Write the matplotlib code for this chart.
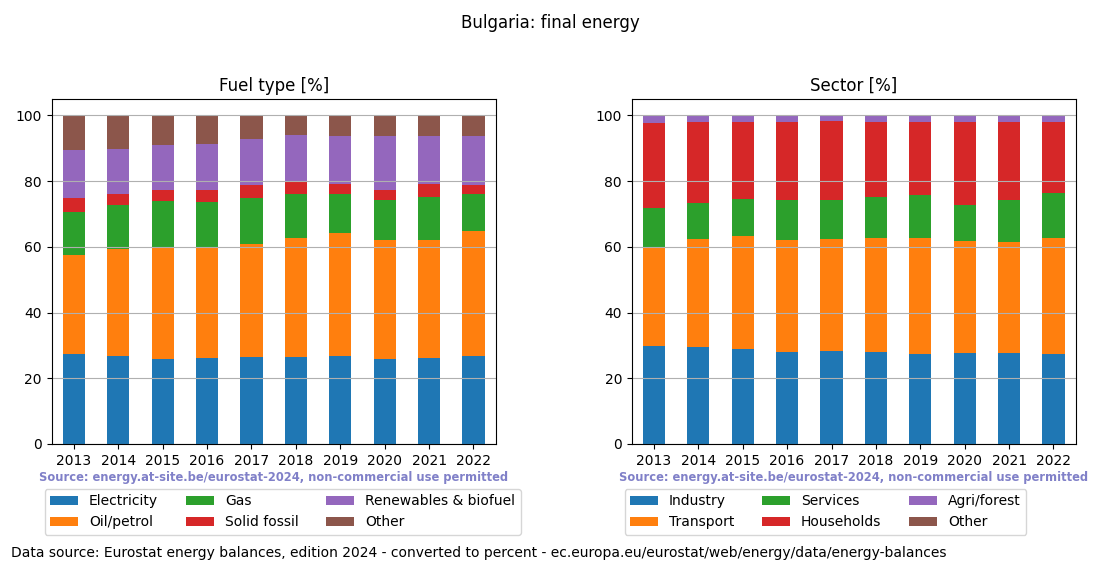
import matplotlib
matplotlib.use("Agg")
import matplotlib.pyplot as plt
import numpy as np

years = ["2013", "2014", "2015", "2016", "2017", "2018", "2019", "2020", "2021", "2022"]

fuel_labels = ["Electricity", "Oil/petrol", "Gas", "Solid fossil", "Renewables & biofuel", "Other"]
electricity = [27.4, 26.8, 25.9, 26.2, 26.5, 26.5, 26.8, 25.9, 26.2, 26.8]
oil_petrol = [30.1, 32.5, 34.0, 33.7, 34.4, 36.2, 37.4, 36.2, 35.9, 38.0]
gas = [13.1, 13.4, 14.0, 13.7, 13.9, 13.4, 11.9, 12.1, 13.1, 11.3]
solid_fossil = [4.2, 3.4, 3.4, 3.7, 4.0, 3.6, 3.0, 3.1, 3.9, 2.7]
renewables = [14.7, 13.7, 13.7, 14.0, 14.0, 14.3, 14.6, 16.4, 14.6, 14.9]
fuel_other = [10.5, 10.2, 9.0, 8.7, 7.2, 6.0, 6.3, 6.3, 6.3, 6.3]

sector_labels = ["Industry", "Transport", "Services", "Households", "Agri/forest", "Other"]
industry = [29.8, 29.5, 28.9, 28.0, 28.3, 28.0, 27.4, 27.7, 27.7, 27.4]
transport = [30.1, 32.9, 34.4, 34.1, 34.1, 34.7, 35.3, 34.1, 33.8, 35.3]
services = [11.9, 10.9, 11.2, 12.1, 11.8, 12.5, 13.1, 10.9, 12.7, 13.7]
households = [25.9, 24.7, 23.5, 23.8, 24.1, 22.8, 22.2, 25.3, 23.8, 21.6]
agri_forest = [2.3, 2.0, 2.0, 2.0, 1.7, 2.0, 2.0, 2.0, 2.0, 2.0]
sector_other = [0.0, 0.0, 0.0, 0.0, 0.0, 0.0, 0.0, 0.0, 0.0, 0.0]

colors = ["#1f77b4", "#ff7f0e", "#2ca02c", "#d62728", "#9467bd", "#8c564b"]

fig = plt.figure(figsize=(11, 5.72), dpi=100)
fig.suptitle("Bulgaria: final energy", fontsize=12, y=0.975)

ax1 = fig.add_axes([0.047, 0.2238, 0.4036, 0.6032])
ax2 = fig.add_axes([0.5743, 0.2238, 0.4036, 0.6032])

def draw(ax, series, labels, title):
    x = np.arange(len(years))
    bottom = np.zeros(len(years))
    for s, lab, c in zip(series, labels, colors):
        ax.bar(x, s, 0.5, bottom=bottom, color=c, label=lab)
        bottom += np.array(s)
    ax.set_xticks(x)
    ax.set_xticklabels(years, rotation=0)
    ax.set_xlim(-0.5, len(years) - 0.5)
    ax.set_ylim(0, 105)
    ax.set_yticks([0, 20, 40, 60, 80, 100])
    ax.grid(axis="y")
    ax.set_title(title, fontsize=12)
    ax.text(0.5, -0.097, "Source: energy.at-site.be/eurostat-2024, non-commercial use permitted",
            transform=ax.transAxes, ha="center", va="center", fontsize=8.3,
            fontweight="bold", color="#8080c8")
    ax.legend(loc="upper left", bbox_to_anchor=(-0.016, -0.130), ncol=3, fontsize=10,
              borderaxespad=0.0)

draw(ax1, [electricity, oil_petrol, gas, solid_fossil, renewables, fuel_other], fuel_labels, "Fuel type [%]")
draw(ax2, [industry, transport, services, households, agri_forest, sector_other], sector_labels, "Sector [%]")

fig.text(0.01, 0.033, "Data source: Eurostat energy balances, edition 2024 - converted to percent - ec.europa.eu/eurostat/web/energy/data/energy-balances",
         fontsize=10, ha="left", va="center")

fig.savefig("out.png", dpi=100)
